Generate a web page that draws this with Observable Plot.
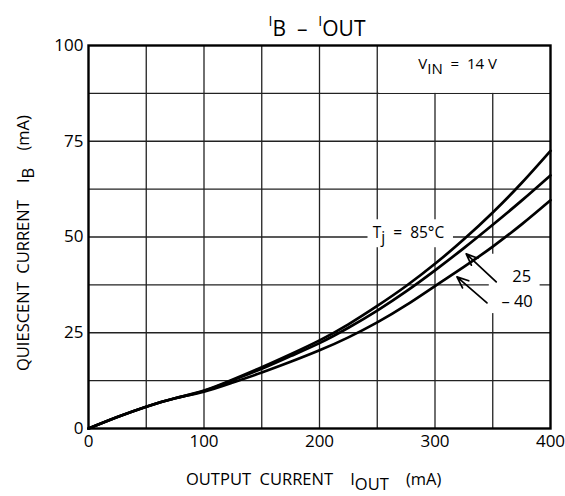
<!DOCTYPE html>
<html>
<head>
<meta charset="utf-8">
<script src="https://cdn.jsdelivr.net/npm/d3@7"></script>
<script src="https://cdn.jsdelivr.net/npm/@observablehq/plot@0.6"></script>
<style>
  html, body { margin: 0; padding: 0; background: white; }
  svg text { font-family: "Open Sans", sans-serif; }
</style>
</head>
<body>
<div id="chart"></div>
<script>
// ---- data ----
const iout  = [0, 25, 50, 75, 100, 125, 150, 175, 200, 225, 250, 275, 300, 325, 350, 375, 400];
const ib85  = [0, 3.0, 5.7, 7.9, 9.9, 12.8, 16.0, 19.4, 23.0, 27.2, 32.0, 37.2, 43.0, 49.4, 56.4, 64.1, 72.5];
const ib25  = [0, 3.0, 5.7, 7.9, 9.8, 12.6, 15.6, 18.9, 22.3, 26.3, 30.8, 35.8, 41.3, 47.1, 53.2, 59.5, 66.1];
const ibm40 = [0, 3.0, 5.7, 7.9, 9.6, 12.0, 14.6, 17.4, 20.4, 23.8, 27.7, 32.2, 37.2, 42.2, 47.5, 53.3, 59.6];
const seriesNames = ["85", "25", "-40"];
const xTicks = [0, 100, 200, 300, 400];
const yTicks = [0, 25, 50, 75, 100];
const xGrid = [50, 100, 150, 200, 250, 300, 350];
const yGrid = [12.5, 25, 37.5, 50, 62.5, 75, 87.5];

// annotation placement (data units)
const masks = [
  {x1: 252, x2: 400, y1: 87.5, y2: 100},   // V_IN box
  {x1: 242, x2: 316, y1: 47.2, y2: 54.5},  // Tj label
  {x1: 347, x2: 391, y1: 30, y2: 45.5}     // 25 / -40 labels
];
const arrows = [
  {x1: 353, y1: 38.3, x2: 327, y2: 45.6},
  {x1: 345, y1: 32.8, x2: 319, y2: 39.6}
];

const seriesValues = [ib85, ib25, ibm40];
const rows = seriesNames.flatMap((s, k) => iout.map((x, i) => ({series: s, iout: x, ib: seriesValues[k][i]})));

const plot = Plot.plot({
  width: 565,
  height: 496,
  marginLeft: 88,
  marginRight: 15,
  marginTop: 45,
  marginBottom: 68,
  style: {fontFamily: "Open Sans, sans-serif", background: "white", color: "black"},
  x: {domain: [0, 400]},
  y: {domain: [0, 100]},
  marks: [
    Plot.ruleX(xGrid, {stroke: "#222", strokeWidth: 1.3}),
    Plot.ruleY(yGrid, {stroke: "#222", strokeWidth: 1.3}),
    Plot.rect(masks, {x1: "x1", x2: "x2", y1: "y1", y2: "y2", fill: "white"}),
    Plot.line(rows, {x: "iout", y: "ib", z: "series", stroke: "black", strokeWidth: 2.7, curve: "natural"}),
    Plot.arrow(arrows, {x1: "x1", y1: "y1", x2: "x2", y2: "y2", stroke: "black", strokeWidth: 1.7, headLength: 11, headAngle: 45}),
    Plot.frame({stroke: "black", strokeWidth: 2.4}),
    Plot.axisX({ticks: xTicks, tickSize: 0, tickPadding: 6, fontSize: 17, label: null}),
    Plot.axisY({ticks: yTicks, tickSize: 0, tickPadding: 5, fontSize: 17, label: null})
  ]
});

document.getElementById("chart").appendChild(plot);

const svg = d3.select(plot);
const sx = plot.scale("x").apply;
const sy = plot.scale("y").apply;

function addText(x, y, parts, opts = {}) {
  const t = svg.append("text")
    .attr("x", x).attr("y", y)
    .attr("fill", "black")
    .attr("text-anchor", opts.anchor || "start")
    .attr("xml:space", "preserve")
    .style("white-space", "pre");
  if (opts.transform) t.attr("transform", opts.transform);
  parts.forEach(p => {
    t.append("tspan")
      .attr("dy", p.dy || 0)
      .attr("font-size", p.size)
      .text(p.t);
  });
  return t;
}

// Title
addText(317, 36, [
  {t: "I", size: 14, dy: -10},
  {t: "B", size: 21, dy: 10},
  {t: "  \u2013  ", size: 21},
  {t: "I", size: 14, dy: -10},
  {t: "OUT", size: 21, dy: 10}
], {anchor: "middle"});

// X axis label
addText(186, 485, [
  {t: "OUTPUT  CURRENT    ", size: 16.5},
  {t: "I", size: 16.5},
  {t: "OUT", size: 16.5, dy: 5},
  {t: "    (mA)", size: 16.5, dy: -5}
]);

// Y axis label
addText(0, 0, [
  {t: "QUIESCENT  CURRENT    ", size: 16.5},
  {t: "I", size: 16.5},
  {t: "B", size: 16.5, dy: 5},
  {t: "    (mA)", size: 16.5, dy: -5}
], {transform: "translate(29,371) rotate(-90)"});

// V_IN annotation
addText(sx(286), sy(93.7), [
  {t: "V", size: 15},
  {t: "IN", size: 15, dy: 5},
  {t: "  =  14 V", size: 15, dy: -5}
]);

// Tj annotation
addText(sx(246.5), sy(49.5), [
  {t: "T", size: 15.5},
  {t: "j", size: 15.5, dy: 5},
  {t: "  =  85\u00B0C", size: 15.5, dy: -5}
]);

// 25 and -40 labels
addText(sx(375.5), sy(38.2), [{t: "25", size: 16.5}], {anchor: "middle"});
addText(sx(371.5), sy(31.5), [{t: "\u2013 40", size: 16.5}], {anchor: "middle"});
</script>
</body>
</html>
